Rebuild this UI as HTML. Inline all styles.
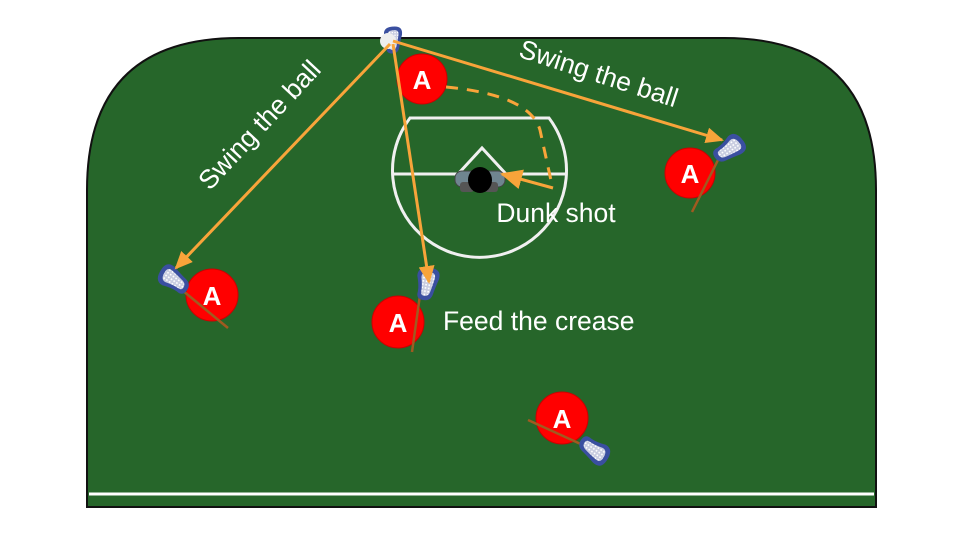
<!DOCTYPE html>
<html><head><style>body{margin:0;background:#fff}svg{display:block}text{font-family:"Liberation Sans",sans-serif}</style></head><body>
<svg width="960" height="540" viewBox="0 0 960 540">
<defs>
<pattern id="m" width="3" height="3" patternUnits="userSpaceOnUse"><rect width="3" height="3" fill="#c8cce0"/><rect width="1.5" height="1.5" fill="#fff"/></pattern>
<g id="st"><path d="M-15,-2 Q-15,-11 -6,-10 Q2,-8 8,-7 Q15,-6 15,1 Q15,8 8,7 Q2,7 -6,10 Q-15,11 -15,-2 Z" fill="#3a4fa0"/><path d="M-11,-2 Q-11,-7 -5,-6 Q2,-5 7,-4 Q11,-3 11,1 Q11,4 7,4 Q2,4 -5,6 Q-11,7 -11,-2 Z" fill="url(#m)"/></g>
<marker id="ar" markerWidth="18" markerHeight="16" refX="16" refY="8" orient="auto" markerUnits="userSpaceOnUse"><path d="M0,0 L18,8 L0,16 z" fill="#f8a43a"/></marker>
<marker id="ab" markerWidth="22" markerHeight="20" refX="20" refY="10" orient="auto" markerUnits="userSpaceOnUse"><path d="M0,0 L22,10 L0,20 z" fill="#f8a43a"/></marker>
</defs>
<path d="M87,507 L87,190 Q87,38 239,38 L724,38 Q876,38 876,190 L876,507 Z" fill="#26662a" stroke="#111" stroke-width="2"/>
<line x1="89" y1="494" x2="874" y2="494" stroke="#fff" stroke-width="3"/>
<g stroke="#f0f0f0" stroke-width="3" fill="none">
<path d="M410,118 L549,118 A87,87 0 1 1 410,118 Z"/>
<line x1="394" y1="174" x2="566" y2="174"/>
<polyline points="458,174 482,148 506,174"/>
</g>
<rect x="455" y="171" width="50" height="16" rx="7" fill="#6f8590" stroke="#444"/>
<rect x="460" y="182" width="14" height="10" rx="3" fill="#555"/><rect x="484" y="182" width="14" height="10" rx="3" fill="#555"/>
<ellipse cx="480" cy="180" rx="12" ry="13" fill="#000"/>
<g fill="#f00" stroke="#c00" stroke-width="1"><circle cx="422" cy="79" r="25"/><circle cx="690" cy="173" r="25"/><circle cx="212" cy="295" r="26"/><circle cx="398" cy="322" r="26"/><circle cx="562" cy="418" r="26"/></g>
<g fill="#fff" font-size="26" font-weight="bold" text-anchor="middle"><text x="422" y="89">A</text><text x="690" y="183">A</text><text x="212" y="305">A</text><text x="398" y="332">A</text><text x="562" y="428">A</text></g>
<g stroke="#a05a20" stroke-width="2.5"><line x1="718" y1="160" x2="692" y2="212"/><line x1="182" y1="290" x2="228" y2="328"/><line x1="420" y1="295" x2="412" y2="352"/><line x1="528" y1="420" x2="585" y2="446"/></g>
<use href="#st" transform="translate(729,149) rotate(145) scale(1.1)"/>
<use href="#st" transform="translate(174,280) rotate(35) scale(1.1)"/>
<use href="#st" transform="translate(427,284) rotate(100) scale(1.1)"/>
<use href="#st" transform="translate(594,450) rotate(215) scale(1.1)"/>
<use href="#st" transform="translate(393,40) rotate(90) scale(0.9)"/>
<circle cx="388" cy="41" r="8" fill="#eee"/>
<g stroke="#f8a43a" stroke-width="3" fill="none">
<line x1="390" y1="44" x2="176" y2="268" marker-end="url(#ar)"/>
<line x1="393" y1="41" x2="722" y2="140" marker-end="url(#ar)"/>
<line x1="393" y1="44" x2="429" y2="282" marker-end="url(#ar)"/>
<path d="M446,87 Q530,95 540,130 L552,185" stroke-dasharray="12,9"/>
<line x1="553" y1="188" x2="502" y2="174" marker-end="url(#ab)"/>
</g>
<g fill="#fff" font-size="26.5">
<text transform="translate(266,131) rotate(-47)" text-anchor="middle">Swing the ball</text>
<text transform="translate(596,82) rotate(18)" text-anchor="middle">Swing the ball</text>
<text x="556" y="222" text-anchor="middle">Dunk shot</text>
<text x="443" y="330">Feed the crease</text>
</g>
</svg>
</body></html>
